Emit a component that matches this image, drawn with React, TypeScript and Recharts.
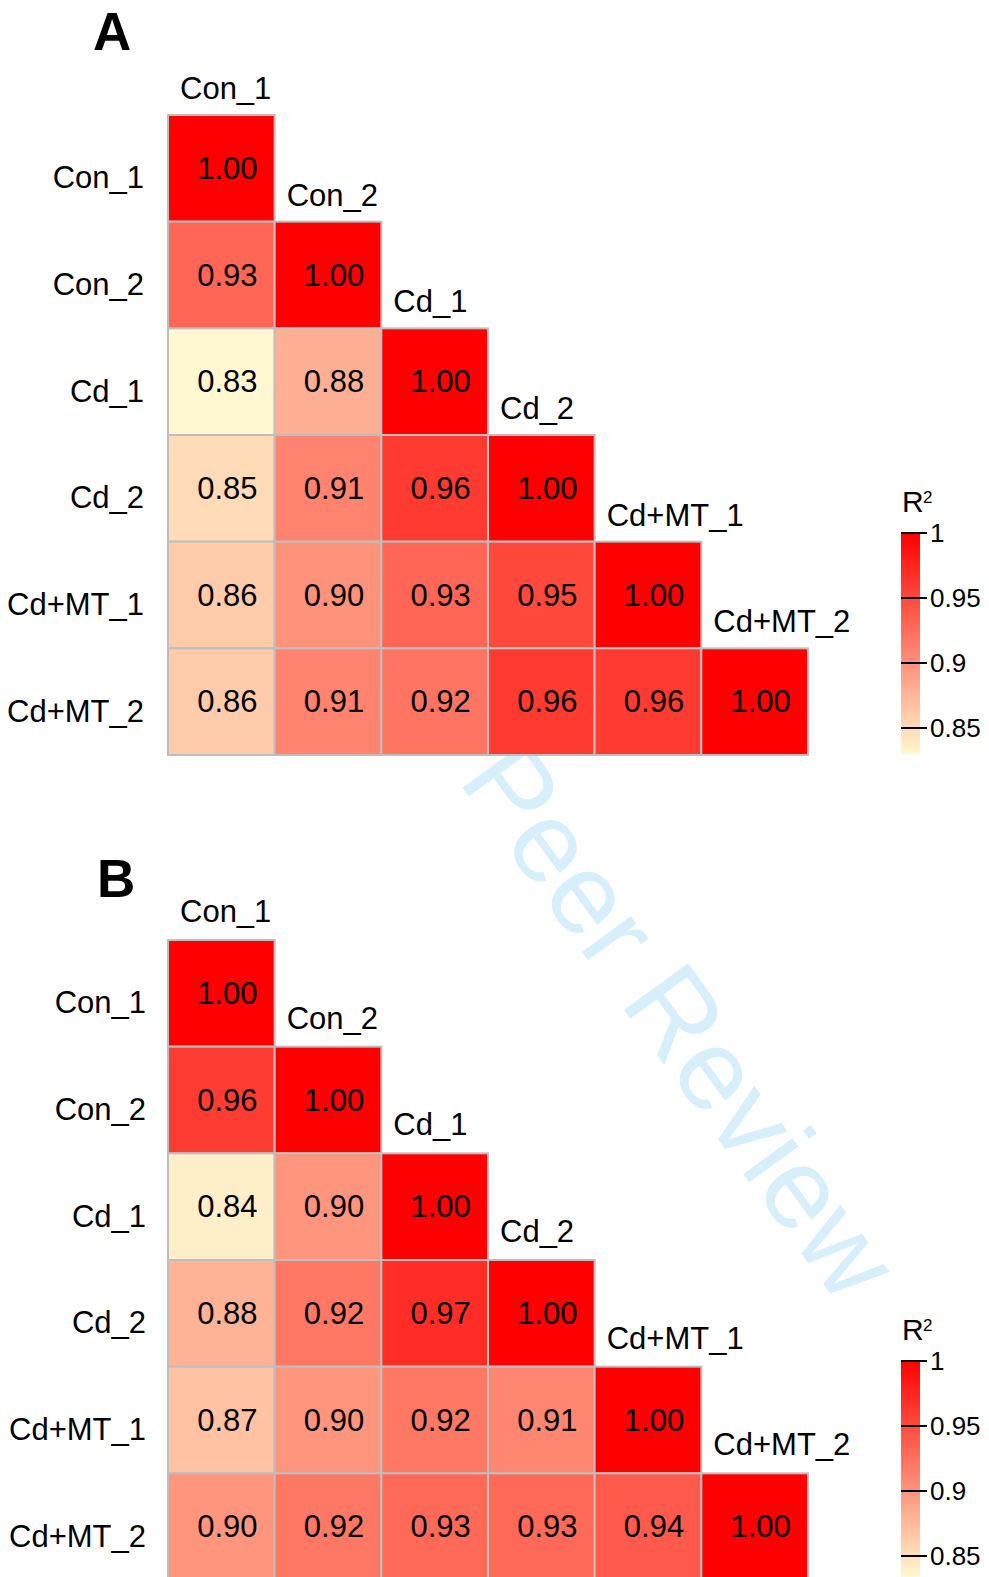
import React from 'react';
import { ScatterChart, Scatter, XAxis, YAxis, ComposedChart, ReferenceArea } from 'recharts';

// ---------- data ----------
const SAMPLES = ['Con_1', 'Con_2', 'Cd_1', 'Cd_2', 'Cd+MT_1', 'Cd+MT_2'];
const PANEL_LETTERS = ['A', 'B'];
const PANEL_A_R2 = [
  [1.0],
  [0.93, 1.0],
  [0.83, 0.88, 1.0],
  [0.85, 0.91, 0.96, 1.0],
  [0.86, 0.9, 0.93, 0.95, 1.0],
  [0.86, 0.91, 0.92, 0.96, 0.96, 1.0],
];
const PANEL_B_R2 = [
  [1.0],
  [0.96, 1.0],
  [0.84, 0.9, 1.0],
  [0.88, 0.92, 0.97, 1.0],
  [0.87, 0.9, 0.92, 0.91, 1.0],
  [0.9, 0.92, 0.93, 0.93, 0.94, 1.0],
];
const LEGEND_TICKS = [0.85, 0.9, 0.95, 1];
const SCALE_MIN_A = 0.83;
const SCALE_MIN_B = 0.834;
const SCALE_MAX = 1;
const LEGEND_TITLE = 'R';
const LEGEND_TITLE_SUP = '2';
const WATERMARK = 'Peer Review';

// ---------- style ----------
const FONT = '"Liberation Sans", Arial, Helvetica, sans-serif';
const LOW_RGB = [255, 248, 208];
const HIGH_RGB = [255, 0, 0];
const GRID = 640;
const CELL = GRID / SAMPLES.length;
const BORDER = '#BEBEBE';

function colorFor(v: number, min: number, max: number) {
  let t = (v - min) / (max - min);
  t = Math.max(0, Math.min(1, t));
  const c = LOW_RGB.map((l, i) => Math.round(l + (HIGH_RGB[i] - l) * t));
  return `rgb(${c[0]},${c[1]},${c[2]})`;
}

function toCells(matrix: number[][]) {
  return matrix.flatMap((row, r) =>
    row.map((v, c) => ({ x: c + 0.5, y: r + 0.5, r2: v }))
  );
}
const DIAG = SAMPLES.map((name, i) => ({ x: i + 0.5, y: i + 0.5, name }));
const ROW_TICKS = SAMPLES.map((_, i) => i + 0.5);

function Heatmap({ matrix, min, top, gridTop, labelX, colLabelDy }: any) {
  const cells = toCells(matrix);
  const height = gridTop + GRID + 40;
  const RowTick = (p: any) => {
    const idx = Math.round(p.payload.value - 0.5);
    return (
      <text x={labelX} y={p.y + 20} textAnchor="end" fontSize={31} fontFamily={FONT} fill="#000">
        {SAMPLES[idx]}
      </text>
    );
  };
  const cellShape = (p: any) => {
    const v = p.payload.r2;
    return (
      <g>
        <rect
          x={p.cx - CELL / 2}
          y={p.cy - CELL / 2}
          width={CELL}
          height={CELL}
          fill={colorFor(v, min, SCALE_MAX)}
          stroke={BORDER}
          strokeWidth={2}
        />
        <text x={p.cx + 6} y={p.cy + 10.5} textAnchor="middle" fontSize={31} fontFamily={FONT} fill="#000">
          {v.toFixed(2)}
        </text>
      </g>
    );
  };
  const diagShape = (p: any) => (
    <text
      x={p.cx - CELL / 2 + 12}
      y={p.cy - CELL / 2 - colLabelDy}
      textAnchor="start"
      fontSize={31}
      fontFamily={FONT}
      fill="#000"
    >
      {p.payload.name}
    </text>
  );
  return (
    <div style={{ position: 'absolute', left: 0, top }}>
      <ScatterChart
        width={989}
        height={height}
        margin={{ top: gridTop, right: 181, bottom: 40, left: 18 }}
        style={{ overflow: 'visible' }}
      >
        <XAxis type="number" dataKey="x" domain={[0, SAMPLES.length]} hide />
        <YAxis
          type="number"
          dataKey="y"
          domain={[0, SAMPLES.length]}
          reversed
          ticks={ROW_TICKS}
          interval={0}
          width={150}
          axisLine={false}
          tickLine={false}
          tick={RowTick}
        />
        <Scatter data={cells} shape={cellShape} isAnimationActive={false} />
        <Scatter data={DIAG} shape={diagShape} isAnimationActive={false} />
      </ScatterChart>
    </div>
  );
}

function ColorBar({ min, top, gradId }: any) {
  const plotH = (SCALE_MAX - min) * 1300;
  const LegendTick = (p: any) => {
    const v = p.payload.value;
    return (
      <g>
        <line x1={0} x2={26} y1={p.y} y2={p.y} stroke="#000" strokeWidth={2} />
        <text x={29} y={p.y} dy="0.35em" fontSize={26} fontFamily={FONT} fill="#000">
          {String(v)}
        </text>
      </g>
    );
  };
  return (
    <div style={{ position: 'absolute', left: 901, top }}>
      <ComposedChart
        width={88}
        height={plotH + 40}
        margin={{ top: 20, right: 0, bottom: 20, left: 0 }}
        data={[{ x: 0 }, { x: 1 }]}
      >
        <XAxis type="number" dataKey="x" domain={[0, 1]} hide />
        <ReferenceArea
          y1={min}
          y2={SCALE_MAX}
          fill={`url(#${gradId})`}
          fillOpacity={1}
          stroke="none"
          ifOverflow="visible"
        />
        <YAxis
          type="number"
          orientation="right"
          domain={[min, SCALE_MAX]}
          ticks={LEGEND_TICKS}
          interval={0}
          width={69}
          axisLine={false}
          tickLine={false}
          tick={LegendTick}
          allowDataOverflow
        />
      </ComposedChart>
    </div>
  );
}

export default function App() {
  const low = `rgb(${LOW_RGB.join(',')})`;
  const high = `rgb(${HIGH_RGB.join(',')})`;
  return (
    <div
      style={{
        position: 'absolute',
        left: 0,
        top: 0,
        width: 989,
        height: 1577,
        background: '#fff',
        overflow: 'hidden',
        fontFamily: FONT,
      }}
    >
      <svg width={989} height={1577} style={{ position: 'absolute', left: 0, top: 0 }}>
        <defs>
          <linearGradient id="gradA" x1="0" y1="1" x2="0" y2="0">
            <stop offset="0" stopColor={low} />
            <stop offset="1" stopColor={high} />
          </linearGradient>
          <linearGradient id="gradB" x1="0" y1="1" x2="0" y2="0">
            <stop offset="0" stopColor={low} />
            <stop offset="1" stopColor={high} />
          </linearGradient>
        </defs>
        <text
          x={457}
          y={780}
          transform="rotate(54 457 780)"
          fontSize={115}
          fontFamily={FONT}
          fill="#D6EFFB"
        >
          {WATERMARK}
        </text>
      </svg>

      <Heatmap matrix={PANEL_A_R2} min={SCALE_MIN_A} top={0} gridTop={115} labelX={144} colLabelDy={16} />
      <Heatmap matrix={PANEL_B_R2} min={SCALE_MIN_B} top={830} gridTop={110} labelX={146} colLabelDy={18} />

      <ColorBar min={SCALE_MIN_A} top={513} gradId="gradA" />
      <ColorBar min={SCALE_MIN_B} top={1341} gradId="gradB" />

      <svg width={989} height={1577} style={{ position: 'absolute', left: 0, top: 0, pointerEvents: 'none' }}>
        <text x={93} y={50} fontSize={53} fontWeight="bold" fontFamily={FONT} fill="#000">
          {PANEL_LETTERS[0]}
        </text>
        <text x={97} y={897} fontSize={53} fontWeight="bold" fontFamily={FONT} fill="#000">
          {PANEL_LETTERS[1]}
        </text>
        <text x={902} y={512} fontSize={30} fontFamily={FONT} fill="#000">
          {LEGEND_TITLE}
        </text>
        <text x={923} y={503} fontSize={17} fontFamily={FONT} fill="#000">
          {LEGEND_TITLE_SUP}
        </text>
        <text x={902} y={1340} fontSize={30} fontFamily={FONT} fill="#000">
          {LEGEND_TITLE}
        </text>
        <text x={923} y={1331} fontSize={17} fontFamily={FONT} fill="#000">
          {LEGEND_TITLE_SUP}
        </text>
      </svg>
    </div>
  );
}
